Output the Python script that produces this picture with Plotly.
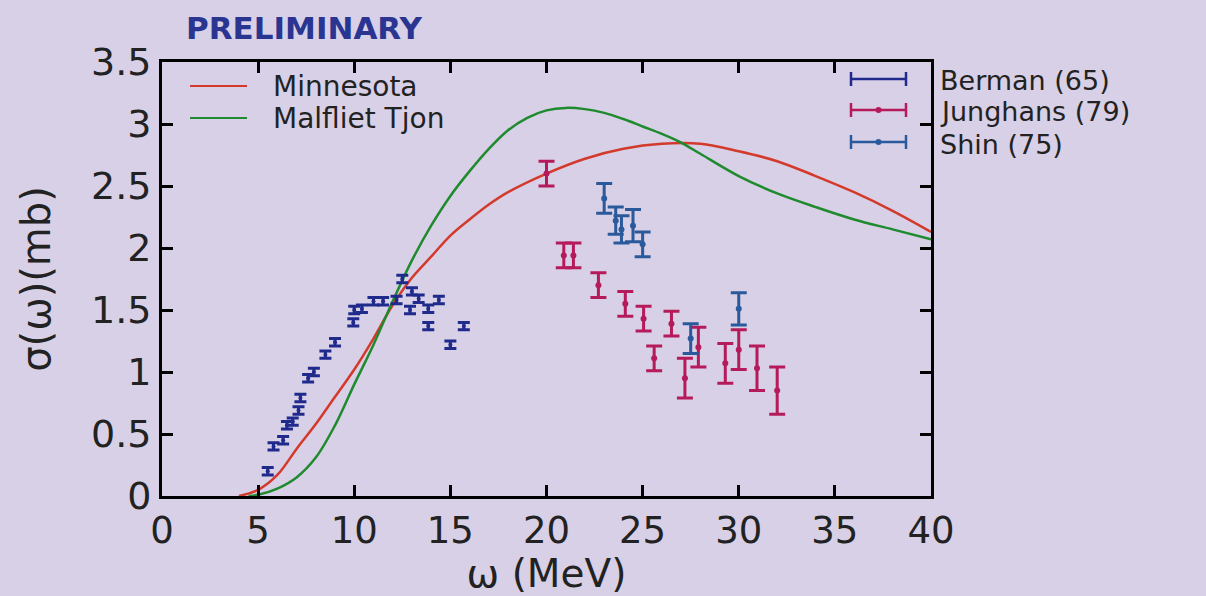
import plotly.graph_objects as go

# ---------------- data ----------------
minn_x = [4, 5, 6, 7, 8, 9, 10, 11, 12, 13, 14, 15, 16, 17, 18, 20, 22, 24, 26, 28, 30, 32, 34, 36, 38, 40]
minn_y = [0.0, 0.05, 0.17, 0.38, 0.58, 0.80, 1.02, 1.27, 1.54, 1.76, 1.93, 2.10, 2.23, 2.35, 2.45, 2.60, 2.72, 2.80, 2.84, 2.84, 2.78, 2.70, 2.58, 2.45, 2.30, 2.13]

mt_x = [4.5, 5, 6, 7, 8, 9, 10, 11, 12, 13, 14, 15, 16, 17, 18, 19, 20, 21, 22, 23, 24, 25, 26, 27, 28, 30, 32, 34, 36, 38, 40]
mt_y = [0.0, 0.01, 0.06, 0.15, 0.31, 0.57, 0.90, 1.22, 1.57, 1.90, 2.18, 2.42, 2.62, 2.80, 2.95, 3.05, 3.11, 3.13, 3.12, 3.09, 3.04, 2.98, 2.92, 2.85, 2.76, 2.58, 2.44, 2.33, 2.23, 2.15, 2.07]

berman_x = [5.5, 5.8, 6.3, 6.5, 6.8, 7.1, 7.2, 7.6, 7.9, 8.5, 9.0, 9.95, 10.0, 10.4, 11.0, 11.5, 12.2, 12.5, 12.9, 13.0, 13.35, 13.85, 13.85, 14.4, 15.0, 15.7]
berman_y = [0.20, 0.40, 0.45, 0.57, 0.60, 0.69, 0.79, 0.95, 1.00, 1.14, 1.24, 1.40, 1.50, 1.51, 1.57, 1.57, 1.58, 1.75, 1.50, 1.65, 1.59, 1.51, 1.37, 1.58, 1.22, 1.37]
berman_err = [0.03] * len(berman_x)

jung_x = [20.0, 20.9, 21.4, 22.7, 24.1, 25.05, 25.6, 26.5, 27.2, 27.9, 29.3, 30.0, 30.95, 32.0]
jung_y = [2.60, 1.94, 1.94, 1.70, 1.55, 1.43, 1.11, 1.39, 0.95, 1.20, 1.07, 1.18, 1.03, 0.85]
jung_err = [0.10, 0.10, 0.10, 0.10, 0.10, 0.10, 0.10, 0.10, 0.16, 0.16, 0.16, 0.16, 0.18, 0.19]

shin_x = [23.0, 23.6, 23.9, 24.5, 25.0, 27.5, 30.0]
shin_y = [2.40, 2.22, 2.15, 2.18, 2.03, 1.27, 1.51]
shin_err = [0.12, 0.11, 0.11, 0.13, 0.10, 0.12, 0.13]

x_ticks = [0, 5, 10, 15, 20, 25, 30, 35, 40]
y_ticks = [0, 0.5, 1, 1.5, 2, 2.5, 3, 3.5]
y_tick_text = ["0", "0.5", "1", "1.5", "2", "2.5", "3", "3.5"]

line_labels = ["Minnesota", "Malfliet Tjon"]
data_labels = ["Berman (65)", "Junghans (79)", "Shin (75)"]

# ---------------- style ----------------
BG = "#d8d0e6"
C_MINN = "#d33a2c"
C_MT = "#1f8a2e"
C_BER = "#1f2a8c"
C_JUN = "#b51a5a"
C_SHIN = "#2b5a9c"
TXT = "#222222"
FONT = "DejaVu Sans"

W, H = 1206, 596
L, R, T, B = 162, 931, 62, 496  # plot area in pixels

def px(xp):
    return (xp - L) / (R - L)

def py(yp):
    return (B - yp) / (B - T)

fig = go.Figure()

fig.add_trace(go.Scatter(x=minn_x, y=minn_y, mode="lines", line=dict(color=C_MINN, width=2.5, shape="spline"),
                         name=line_labels[0], showlegend=False))
fig.add_trace(go.Scatter(x=mt_x, y=mt_y, mode="lines", line=dict(color=C_MT, width=2.5, shape="spline"),
                         name=line_labels[1], showlegend=False))

def err_trace(x, y, e, color, name, cap, msize):
    return go.Scatter(x=x, y=y, mode="markers", name=name, showlegend=False,
                      marker=dict(color=color, size=msize),
                      error_y=dict(type="data", array=e, visible=True, color=color, thickness=3, width=cap))

fig.add_trace(err_trace(berman_x, berman_y, berman_err, C_BER, data_labels[0], 6, 4))
fig.add_trace(err_trace(jung_x, jung_y, jung_err, C_JUN, data_labels[1], 8, 6))
fig.add_trace(err_trace(shin_x, shin_y, shin_err, C_SHIN, data_labels[2], 8, 6))

shapes = []
annotations = []

# legend 1 (lines)
for lbl, col, yp in [(line_labels[0], C_MINN, 86), (line_labels[1], C_MT, 118)]:
    shapes.append(dict(type="line", xref="paper", yref="paper", x0=px(190), x1=px(247), y0=py(yp), y1=py(yp),
                       line=dict(color=col, width=2)))
    annotations.append(dict(xref="paper", yref="paper", x=px(271), y=py(yp), text=lbl, showarrow=False,
                            xanchor="left", yanchor="middle", font=dict(family=FONT, size=28, color=TXT)))

# legend 2 (data)
for lbl, col, yp, dot in [(data_labels[0], C_BER, 79, False), (data_labels[1], C_JUN, 110, True),
                          (data_labels[2], C_SHIN, 142, True)]:
    shapes.append(dict(type="line", xref="paper", yref="paper", x0=px(851), x1=px(906), y0=py(yp), y1=py(yp),
                       line=dict(color=col, width=2.5)))
    for xc in (851, 906):
        shapes.append(dict(type="line", xref="paper", yref="paper", x0=px(xc), x1=px(xc), y0=py(yp - 7), y1=py(yp + 7),
                           line=dict(color=col, width=2.5)))
    if dot:
        shapes.append(dict(type="circle", xref="paper", yref="paper", x0=px(875.5), x1=px(881.5),
                           y0=py(yp + 3), y1=py(yp - 3), fillcolor=col, line=dict(color=col, width=0)))
    annotations.append(dict(xref="paper", yref="paper", x=px(938), y=py(yp + 2), text=lbl, showarrow=False,
                            xanchor="left", yanchor="middle", font=dict(family=FONT, size=27, color=TXT)))

annotations.append(dict(xref="paper", yref="paper", x=px(184), y=py(28), text="<b>PRELIMINARY</b>", showarrow=False,
                        xanchor="left", yanchor="middle", font=dict(family=FONT, size=31, color="#2a3592")))

fig.update_layout(
    width=W, height=H,
    margin=dict(l=L, r=W - R, t=T, b=H - B),
    paper_bgcolor=BG, plot_bgcolor=BG,
    shapes=shapes, annotations=annotations,
    showlegend=False,
    font=dict(family=FONT, color=TXT),
)

fig.update_xaxes(range=[0, 40], tickvals=x_ticks, ticks="inside", ticklen=11, tickwidth=2.5, tickcolor="black",
                 showline=True, linecolor="black", linewidth=3, mirror="ticks", showgrid=False, zeroline=False,
                 tickfont=dict(family=FONT, size=37, color=TXT),
                 title=dict(text="ω (MeV)", font=dict(family=FONT, size=39, color=TXT), standoff=4))
fig.update_yaxes(range=[0, 3.5], tickvals=y_ticks, ticktext=y_tick_text, ticks="inside", ticklen=11, tickwidth=2.5,
                 tickcolor="black", showline=True, linecolor="black", linewidth=3, mirror="ticks", showgrid=False,
                 zeroline=False, tickfont=dict(family=FONT, size=38, color=TXT),
                 title=dict(text="σ(ω)(mb)", font=dict(family=FONT, size=40, color=TXT), standoff=28))

fig.write_html("out.html", config={"displayModeBar": False},
               post_script="document.body.style.margin='0';document.body.style.background='%s';" % BG)
